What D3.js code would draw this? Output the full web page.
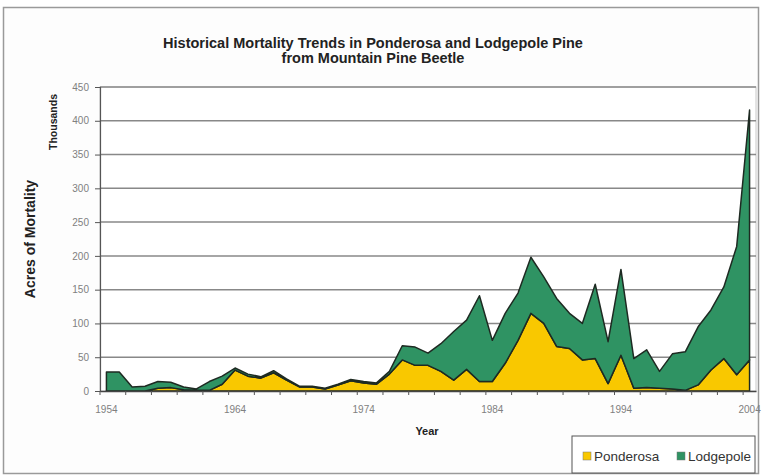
<!DOCTYPE html>
<html>
<head>
<meta charset="utf-8">
<script src="https://d3js.org/d3.v7.min.js"></script>
<style>
  body { margin: 0; background: #fff; }
  text { font-family: "Liberation Sans", Arial, sans-serif; }
</style>
</head>
<body>
<script>
// chart data (thousands of acres)
var years = d3.range(1954, 2005);
var ponderosa = [0, 0, 0, 0, 4, 5, 2, 1, 1, 10,
                 31, 22, 19, 27, 16, 6, 6, 3, 9, 15,
                 12, 10, 25, 46, 38, 38, 29, 16, 32, 14,
                 14, 41, 75, 115, 100, 66, 63, 46, 48, 11,
                 53, 4, 5, 4, 3, 1, 9, 31, 48, 24,
                 46];
var lodgepole = [28, 28, 6, 7, 10, 8, 4, 2, 13, 12,
                 3, 3, 2, 3, 2, 1, 1, 1, 1, 2,
                 2, 2, 4, 21, 27, 18, 41, 72, 73, 127,
                 61, 74, 70, 83, 69, 71, 52, 54, 110, 62,
                 127, 44, 56, 25, 52, 57, 86, 89, 106, 190,
                 370];
var seriesNames = ["Ponderosa", "Lodgepole"];
var seriesColors = ["#f9c800", "#2f9363"];
var yTicks = [0, 50, 100, 150, 200, 250, 300, 350, 400, 450];
var xLabelYears = [1954, 1964, 1974, 1984, 1994, 2004];

var width = 762, height = 476;
var plot = {left: 100, top: 87, right: 756, bottom: 391};

var svg = d3.select("body").append("svg")
  .attr("width", width)
  .attr("height", height);

// outer chart border
svg.append("rect")
  .attr("x", 3.5).attr("y", 7.5)
  .attr("width", 755).attr("height", 466)
  .attr("fill", "#fdfdfd")
  .attr("stroke", "#9a9a9a")
  .attr("stroke-width", 1.5);

var table = years.map(function(y, i) {
  return {year: y, Ponderosa: ponderosa[i], Lodgepole: lodgepole[i]};
});

var x = d3.scaleBand()
  .domain(years)
  .range([plot.left, plot.right])
  .padding(0);

var y = d3.scaleLinear()
  .domain([0, 450])
  .range([plot.bottom, plot.top]);

function cx(yr) { return x(yr) + x.bandwidth() / 2; }

// plot background
svg.append("rect")
  .attr("x", plot.left).attr("y", plot.top)
  .attr("width", plot.right - plot.left)
  .attr("height", plot.bottom - plot.top)
  .attr("fill", "#fff")
  .attr("stroke", "#c8c8c8");

// gridlines
svg.append("g")
  .selectAll("line")
  .data(yTicks.slice(1))
  .enter().append("line")
  .attr("x1", plot.left).attr("x2", plot.right)
  .attr("y1", function(d) { return y(d); })
  .attr("y2", function(d) { return y(d); })
  .attr("stroke", "#888")
  .attr("stroke-width", 1.5);

// stacked areas
var stack = d3.stack().keys(seriesNames);
var layers = stack(table);

var area = d3.area()
  .x(function(d) { return cx(d.data.year); })
  .y0(function(d) { return y(d[0]); })
  .y1(function(d) { return y(d[1]); });

svg.append("g")
  .selectAll("path")
  .data(layers)
  .enter().append("path")
  .attr("d", area)
  .attr("fill", function(d, i) { return seriesColors[i]; })
  .attr("stroke", "#1e2a22")
  .attr("stroke-width", 1.5)
  .attr("stroke-linejoin", "round");

// y axis
var yAxis = d3.axisLeft(y).tickValues(yTicks).tickSize(5).tickPadding(6);
var gy = svg.append("g")
  .attr("transform", "translate(" + plot.left + ",0)")
  .call(yAxis);
gy.select(".domain").attr("stroke", "#555").attr("stroke-width", 1.2);
gy.selectAll(".tick line").attr("stroke", "#555");
gy.selectAll("text")
  .attr("font-size", 10)
  .attr("fill", "#808080")
  .style("font-family", "Liberation Sans, Arial, sans-serif");

// x axis: labels every 10 years, ticks every 2 categories
var xAxis = d3.axisBottom(x).tickValues(xLabelYears).tickSize(0).tickPadding(15);
var gx = svg.append("g")
  .attr("transform", "translate(0," + plot.bottom + ")")
  .call(xAxis);
gx.select(".domain").attr("stroke", "#444").attr("stroke-width", 1.4);
gx.selectAll("text")
  .attr("font-size", 10)
  .attr("fill", "#808080")
  .style("font-family", "Liberation Sans, Arial, sans-serif");

svg.append("g")
  .selectAll("line")
  .data(years.filter(function(d, i) { return i % 2 === 0; }))
  .enter().append("line")
  .attr("x1", function(d) { return x(d); })
  .attr("x2", function(d) { return x(d); })
  .attr("y1", plot.bottom)
  .attr("y2", plot.bottom + 4)
  .attr("stroke", "#555");

// titles
var title = svg.append("text")
  .attr("text-anchor", "middle")
  .attr("font-size", 14.5)
  .attr("font-weight", "bold")
  .attr("fill", "#222");
title.append("tspan").attr("x", 373).attr("y", 48)
  .text("Historical Mortality Trends in Ponderosa and Lodgepole Pine");
title.append("tspan").attr("x", 373).attr("y", 63)
  .text("from Mountain Pine Beetle");

svg.append("text")
  .attr("transform", "translate(35," + ((plot.top + plot.bottom) / 2) + ") rotate(-90)")
  .attr("text-anchor", "middle")
  .attr("font-size", 14)
  .attr("font-weight", "bold")
  .attr("fill", "#222")
  .text("Acres of Mortality");

svg.append("text")
  .attr("transform", "translate(57,122) rotate(-90)")
  .attr("text-anchor", "middle")
  .attr("font-size", 10.5)
  .attr("font-weight", "bold")
  .attr("fill", "#222")
  .text("Thousands");

svg.append("text")
  .attr("x", 427).attr("y", 435)
  .attr("text-anchor", "middle")
  .attr("font-size", 11)
  .attr("font-weight", "bold")
  .attr("fill", "#222")
  .text("Year");

// legend
var legend = svg.append("g").attr("transform", "translate(572,436)");
legend.append("rect")
  .attr("width", 183).attr("height", 37)
  .attr("fill", "#fff")
  .attr("stroke", "#555");

var items = legend.selectAll("g.item")
  .data(seriesNames)
  .enter().append("g")
  .attr("class", "item")
  .attr("transform", function(d, i) { return "translate(" + (11 + i * 94) + ",20)"; });
items.append("rect")
  .attr("x", 0).attr("y", -4)
  .attr("width", 8).attr("height", 8)
  .attr("fill", function(d, i) { return seriesColors[i]; })
  .attr("stroke", "#777")
  .attr("stroke-width", 0.5);
items.append("text")
  .attr("x", 11).attr("y", 5)
  .attr("font-size", 13.5)
  .attr("fill", "#333")
  .text(function(d) { return d; });
</script>
</body>
</html>
